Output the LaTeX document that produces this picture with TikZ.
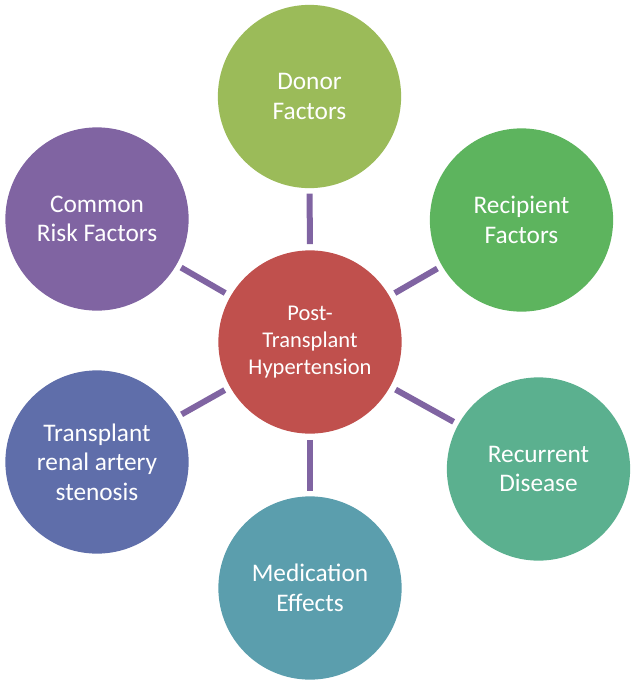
\documentclass[tikz,border=0pt]{standalone}
\usepackage{fontspec}
\setmainfont{Carlito}
\definecolor{hubred}{RGB}{192, 80, 77}
\definecolor{donorgreen}{RGB}{155, 187, 89}
\definecolor{recipgreen}{RGB}{93, 180, 94}
\definecolor{recurteal}{RGB}{91, 176, 143}
\definecolor{medblue}{RGB}{91, 158, 173}
\definecolor{stenblue}{RGB}{95, 110, 170}
\definecolor{riskpurple}{RGB}{128, 100, 162}
\usetikzlibrary{positioning}
\tikzset{
	factor/.style={circle, fill=#1, draw=none, minimum size=4.58cm, inner sep=0pt, align=center, text=white, font=\fontsize{18}{21}\selectfont},
	hub/.style={circle, fill=hubred, draw=none, minimum size=4.58cm, inner sep=0pt, align=center, text=white, font=\fontsize{16}{19}\selectfont},
	link/.style={line width=0.15cm, draw=riskpurple, shorten <=0.15cm, shorten >=0.13cm},
}

\begin{document}
\begin{tikzpicture}[x=0.025cm, y=-0.025cm]
		\useasboundingbox (0,0) rectangle (636,685);
		\node[hub] (hub) at (310,342) {Post-\\Transplant\\Hypertension};
		\node[factor=donorgreen] (donor) at (309.5,96.5) {Donor\\Factors};
		\node[factor=recipgreen] (recip) at (521.5,220) {Recipient\\Factors};
		\node[factor=recurteal] (recur) at (538.5,469) {Recurrent\\Disease};
		\node[factor=medblue] (meds) at (310,588) {Medication\\Effects};
		\node[factor=stenblue] (steno) at (97,462) {Transplant\\renal artery\\stenosis};
		\node[factor=riskpurple] (risk) at (97,219) {Common\\Risk Factors};
		\foreach \spoke in {donor, recip, recur, meds, steno, risk}
			\draw[link] (hub) -- (\spoke);
	\end{tikzpicture}
\end{document}
